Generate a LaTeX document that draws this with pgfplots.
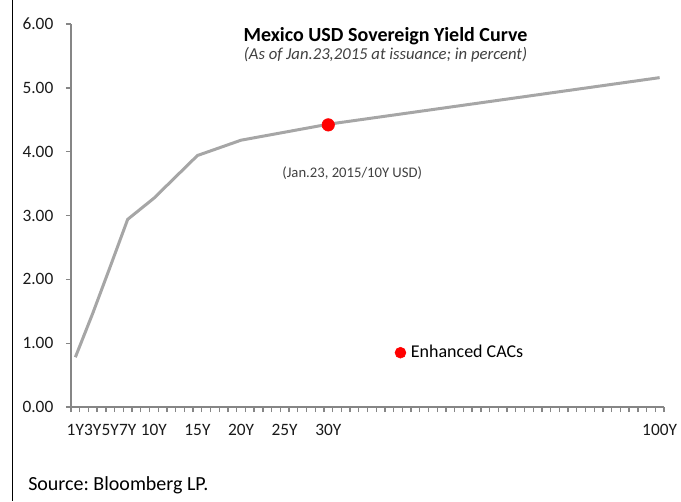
\documentclass[border=0pt]{standalone}
\usepackage{fontspec}
\setmainfont{Carlito}
\usepackage{pgfplots}
\pgfplotsset{compat=1.18}
\frenchspacing
\definecolor{axgray}{HTML}{868686}
\definecolor{linegray}{HTML}{A6A6A6}
\definecolor{txt}{HTML}{1A1A1A}
\definecolor{anno}{HTML}{404040}
\begin{document}
\begin{tikzpicture}
\useasboundingbox (0,0) rectangle (510.75pt,-375.75pt);
\draw[black, line width=0.75pt] (9pt,0) -- (9pt,-375.75pt);
\begin{axis}[
  at={(53.25pt,-305.25pt)}, anchor=south west,
  scale only axis, width=444.75pt, height=287.25pt,
  xmin=0.5, xmax=68.5, ymin=0, ymax=6,
  axis lines=left,
  axis line style={axgray, line width=1.1pt, -},
  tick align=outside,
  major tick length=3.75pt, minor tick length=3.75pt,
  tick style={axgray, line width=1pt},
  major x tick style={draw=none},
  xtick={1,3,5,7,10,15,20,25,30,68},
  xticklabels={1Y,3Y,5Y,7Y,10Y,15Y,20Y,25Y,30Y,100Y},
  minor xtick={0.5,1.5,...,68.5},
  ytick={0,1,...,6},
  /pgf/number format/assume math mode=true,
  yticklabel style={/pgf/number format/fixed, /pgf/number format/fixed zerofill, /pgf/number format/precision=2, xshift=-6pt},
  xticklabel style={yshift=-6pt},
  tick label style={font=\fontsize{13}{15}\selectfont, text=txt},
  legend style={draw=none, fill=none, at={(0.5455,0.1418)}, anchor=west,
    font=\fontsize{13.5}{16}\selectfont, inner sep=0pt,
    /tikz/every even column/.append style={column sep=0pt}},
  legend cell align=left,
  clip=false,
]
\addplot[linegray, line width=2.25pt, forget plot] coordinates {
  (1,0.78) (3,1.47) (5,2.20) (7,2.94) (10,3.27) (15,3.94) (20,4.18) (30,4.43) (68,5.16)
};
\addplot[only marks, mark=*, mark size=4.7pt, color=red, mark options={fill=red, draw=none},
  legend image code/.code={\fill[red] (0pt,0pt) circle (4.1pt);}] coordinates {(30,4.42)};
\addlegendentry{\hspace{1.5pt}Enhanced CACs}
\node[anchor=base, font=\fontsize{11}{13}\selectfont, text=anno] at (axis cs:32.75,3.6) {(Jan.23, 2015/10Y USD)};
\end{axis}
\node[anchor=base, font=\bfseries\fontsize{15}{18}\selectfont] at (289.1pt,-31pt) {Mexico USD Sovereign Yield Curve};
\node[anchor=base, font=\itshape\fontsize{12.5}{15}\selectfont, text=anno] at (289.1pt,-44.5pt) {(As of Jan.23,2015 at issuance; in percent)};
\node[anchor=base west, inner sep=0pt, font=\fontsize{15}{18}\selectfont] at (21pt,-367.5pt) {Source: Bloomberg LP.};
\end{tikzpicture}
\end{document}
